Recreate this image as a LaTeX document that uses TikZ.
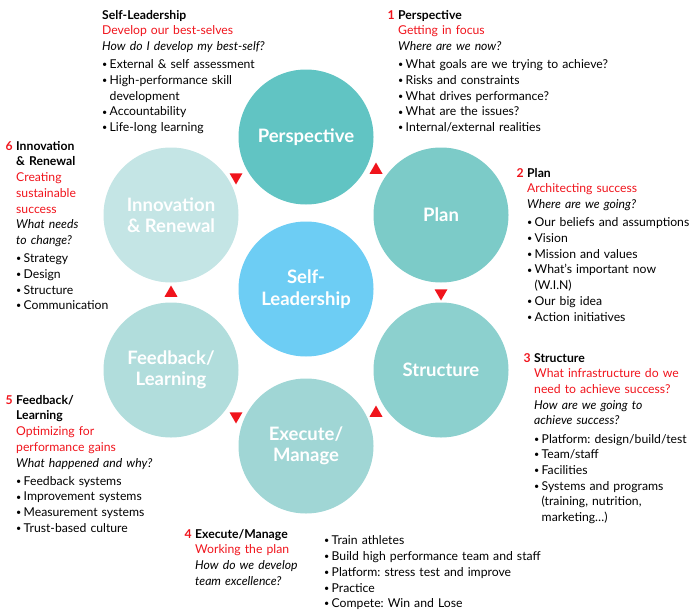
\documentclass[tikz,border=0pt]{standalone}
\usepackage{fontspec}
\setmainfont{Lato}
\usetikzlibrary{shapes.geometric}
\setlength{\parindent}{0pt}
\frenchspacing
\definecolor{mred}{RGB}{240,20,28}
\definecolor{cpersp}{RGB}{97,196,195}
\definecolor{cplan}{RGB}{124,203,200}
\definecolor{cstruct}{RGB}{140,208,206}
\definecolor{cexec}{RGB}{160,214,213}
\definecolor{cfeed}{RGB}{177,221,220}
\definecolor{cinno}{RGB}{196,229,229}
\definecolor{cself}{RGB}{109,205,244}
\newcommand{\bitem}[1]{\par\hangindent=7.5pt\hangafter=1\makebox[7.5pt][l]{\raisebox{.15ex}{\small\textbullet}}#1}
\newcommand{\gap}{\par\vspace{2.5pt}}
\newcommand{\stepno}[1]{\llap{\textcolor{mred}{\textbf{#1}}\hspace{3.5pt}}}

\begin{document}
\begin{tikzpicture}[x=1pt, y=-1pt,
    stage/.style={circle, minimum size=135pt, inner sep=0pt, text=white, align=center,
        font=\fontsize{18.5}{21.5}\selectfont\bfseries},
    block/.style={anchor=north west, inner sep=0pt, align=left, text width=200pt,
        font=\fontsize{12.2}{15.7}\selectfont},
    tri/.style={regular polygon, regular polygon sides=3, fill=mred, inner sep=0pt, minimum size=15pt},
    trid/.style={tri, shape border rotate=180},
]
    \useasboundingbox (0,0) rectangle (700,610);

    % the six stages round the centre
    \node[stage, fill=cpersp] (persp) at (306,137) {Perspective};
    \node[stage, fill=cplan] (plan) at (441,215) {Plan};
    \node[stage, fill=cstruct] (struct) at (441,370) {Structure};
    \node[stage, fill=cexec] (exec) at (306,446) {Execute/\\Manage};
    \node[stage, fill=cfeed] (feed) at (171,370) {Feedback/\\Learning};
    \node[stage, fill=cinno] (inno) at (171,215) {Innovation\\\& Renewal};
    \node[stage, fill=cself] (self) at (306,289) {Self-\\Leadership};

    % red markers between the stages
    \node[tri] (t12) at (376,170) {};
    \node[trid] (t23) at (441,293) {};
    \node[tri] (t34) at (376,413) {};
    \node[trid] (t45) at (236,416) {};
    \node[tri] (t56) at (171,293) {};
    \node[trid] (t61) at (236,177) {};

    % notes
    \node[block] (slnote) at (102,10) {\textbf{Self-Leadership}\\
        \textcolor{mred}{Develop our best-selves}\\
        \textit{How do I develop my best-self?}\gap
        \bitem{External \& self assessment}
        \bitem{High-performance skill\newline development}
        \bitem{Accountability}
        \bitem{Life-long learning}\par};

    \node[block, text width=295pt] (perspnote) at (398,10) {\stepno{1}\textbf{Perspective}\\
        \textcolor{mred}{Getting in focus}\\
        \textit{Where are we now?}\gap
        \bitem{What goals are we trying to achieve?}
        \bitem{Risks and constraints}
        \bitem{What drives performance?}
        \bitem{What are the issues?}
        \bitem{Internal/external realities}\par};

    \node[block, text width=170pt] (plannote) at (527,168) {\stepno{2}\textbf{Plan}\\
        \textcolor{mred}{Architecting success}\\
        \textit{Where are we going?}\gap
        \bitem{Our beliefs and assumptions}
        \bitem{Vision}
        \bitem{Mission and values}
        \bitem{What’s important now\newline (W.I.N)}
        \bitem{Our big idea}
        \bitem{Action initiatives}\par};

    \node[block, text width=165pt] (structnote) at (534,353) {\stepno{3}\textbf{Structure}\\
        \textcolor{mred}{What infrastructure do we\\need to achieve success?}\\
        \textit{How are we going to\\achieve success?}\gap
        \bitem{Platform: design/build/test}
        \bitem{Team/staff}
        \bitem{Facilities}
        \bitem{Systems and programs\newline (training, nutrition,\newline marketing…)}\par};

    \node[block] (execnote) at (195,529) {\stepno{4}\textbf{Execute/Manage}\\
        \textcolor{mred}{Working the plan}\\
        \textit{How do we develop\\team excellence?}};
    \node[block, text width=280pt] (execlist) at (324,529) {\bitem{Train athletes}
        \bitem{Build high performance team and staff}
        \bitem{Platform: stress test and improve}
        \bitem{Practice}
        \bitem{Compete: Win and Lose}\par};

    \node[block] (feednote) at (16,395) {\stepno{5}\textbf{Feedback/\\Learning}\\
        \textcolor{mred}{Optimizing for\\performance gains}\\
        \textit{What happened and why?}\gap
        \bitem{Feedback systems}
        \bitem{Improvement systems}
        \bitem{Measurement systems}
        \bitem{Trust-based culture}\par};

    \node[block] (innonote) at (16,141) {\stepno{6}\textbf{Innovation\\\& Renewal}\\
        \textcolor{mred}{Creating\\sustainable\\success}\\
        \textit{What needs\\to change?}\gap
        \bitem{Strategy}
        \bitem{Design}
        \bitem{Structure}
        \bitem{Communication}\par};
\end{tikzpicture}
\end{document}
